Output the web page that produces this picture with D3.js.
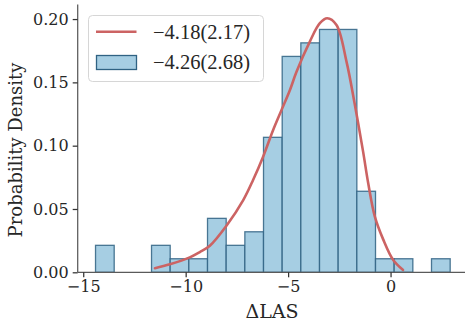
<!DOCTYPE html>
<html>
<head>
<meta charset="utf-8">
<script src="https://cdn.jsdelivr.net/npm/d3@7"></script>
<style>
  body { margin: 0; background: #fff; }
  svg { display: block; }
</style>
</head>
<body>
<div id="chart"></div>
<script>
// histogram: 19 bins between the sample min and max, values are densities
var binStart = -14.40, binEnd = 2.91, binCount = 19;
var densities = [0.0213, 0, 0, 0.0213, 0.0107, 0.0107, 0.0426, 0.0213, 0.0320, 0.1066,
                 0.1705, 0.1812, 0.1918, 0.1918, 0.0640, 0.0107, 0.0107, 0, 0.0107];

// fitted curve
var curveX = [-11.50, -10.77, -9.80, -9.31, -8.82, -8.00, -7.19, -6.71, -6.22, -5.73, -5.32, -4.91, -4.59,
              -3.94, -3.45, -3.09, -2.64, -2.15, -1.74, -1.34, -1.09, -0.77, -0.36, 0.13, 0.61];
var curveY = [0.0032, 0.0063, 0.0118, 0.0160, 0.0210, 0.0370, 0.0570, 0.0729, 0.0913, 0.1124, 0.1282, 0.1440, 0.1584,
              0.1822, 0.1967, 0.2006, 0.1953, 0.1664, 0.1321, 0.0953, 0.0703, 0.0442, 0.0260, 0.0097, 0.0018];

var xTicks = [-15, -10, -5, 0];
var yTicks = [0, 0.05, 0.10, 0.15, 0.20];
var legendLabels = ["\u22124.18(2.17)", "\u22124.26(2.68)"];

var width = 465, height = 325;
var margin = {top: 4.5, left: 77.7, bottom: 52.7};

var svg = d3.select("#chart")
  .append("svg")
    .attr("width", width)
    .attr("height", height);

var x = d3.scaleLinear()
  .domain([-15.27, 3.78])
  .range([margin.left, 468]);

var y = d3.scaleLinear()
  .domain([0, 0.2115])
  .range([height - margin.bottom, margin.top]);

// bars
var step = (binEnd - binStart) / binCount;
var bins = densities.map(function(d, i) {
  return {x0: binStart + i * step, x1: binStart + (i + 1) * step, v: d};
});

svg.selectAll("rect.bar")
  .data(bins.filter(function(d) { return d.v > 0; }))
  .enter()
  .append("rect")
    .attr("class", "bar")
    .attr("x", function(d) { return x(d.x0); })
    .attr("y", function(d) { return y(d.v); })
    .attr("width", function(d) { return x(d.x1) - x(d.x0); })
    .attr("height", function(d) { return y(0) - y(d.v); })
    .attr("fill", "#a6cee3")
    .attr("stroke", "#2f6283")
    .attr("stroke-opacity", 0.85)
    .attr("stroke-width", 1.3);

// curve
var line = d3.line()
  .x(function(d, i) { return x(curveX[i]); })
  .y(function(d) { return y(d); })
  .curve(d3.curveCatmullRom);

svg.append("path")
  .attr("d", line(curveY))
  .attr("fill", "none")
  .attr("stroke", "#cc6363")
  .attr("stroke-width", 2.6)
  .attr("stroke-linecap", "round");

// axes
var fmtY = d3.format(".2f");
var xAxis = svg.append("g")
  .attr("transform", "translate(0," + y(0) + ")")
  .call(d3.axisBottom(x).tickValues(xTicks).tickSize(5).tickPadding(3)
        .tickFormat(function(d) { return d < 0 ? "\u2212" + Math.abs(d) : d; }));

var yAxis = svg.append("g")
  .attr("transform", "translate(" + margin.left + ",0)")
  .call(d3.axisLeft(y).tickValues(yTicks).tickSize(5).tickPadding(4).tickFormat(fmtY));

[xAxis, yAxis].forEach(function(g) {
  g.select(".domain").attr("stroke", "#5a5a5a").attr("stroke-width", 1.25);
  g.selectAll(".tick line").attr("stroke", "#333").attr("stroke-width", 1.25);
  g.selectAll(".tick text")
    .attr("fill", "#262626")
    .style("font-family", "DejaVu Serif")
    .style("font-size", "16px");
});
// make axis spines reach the ends of the plot
xAxis.select(".domain").attr("d", "M" + margin.left + ",0H468");
yAxis.select(".domain").attr("d", "M0," + margin.top + "V" + y(0));

// axis labels
svg.append("text")
  .attr("x", 272)
  .attr("y", 318)
  .attr("text-anchor", "middle")
  .attr("fill", "#262626")
  .style("font-family", "DejaVu Serif")
  .style("font-size", "19px")
  .text("\u0394LAS");

svg.append("text")
  .attr("transform", "translate(22," + 150 + ")rotate(-90)")
  .attr("text-anchor", "middle")
  .attr("fill", "#262626")
  .style("font-family", "DejaVu Serif")
  .style("font-size", "18px")
  .text("Probability Density");

// legend
var legend = svg.append("g");
legend.append("rect")
  .attr("x", 88.5).attr("y", 15.5)
  .attr("width", 175).attr("height", 66)
  .attr("rx", 4)
  .attr("fill", "#fff").attr("fill-opacity", 0.8)
  .attr("stroke", "#d6d6d6");

legend.append("line")
  .attr("x1", 96).attr("x2", 136.5)
  .attr("y1", 31.7).attr("y2", 31.7)
  .attr("stroke", "#cc6363").attr("stroke-width", 2.6);

legend.append("rect")
  .attr("x", 96.5).attr("y", 55.5)
  .attr("width", 40).attr("height", 14)
  .attr("fill", "#a6cee3")
  .attr("stroke", "#2f6283").attr("stroke-width", 1.3);

legend.selectAll("text.lab")
  .data(legendLabels)
  .enter()
  .append("text")
    .attr("class", "lab")
    .attr("x", 153)
    .attr("y", function(d, i) { return 38.5 + i * 30; })
    .attr("fill", "#262626")
    .style("font-family", "Liberation Serif")
    .style("font-size", "20.5px")
    .text(function(d) { return d; });
</script>
</body>
</html>
